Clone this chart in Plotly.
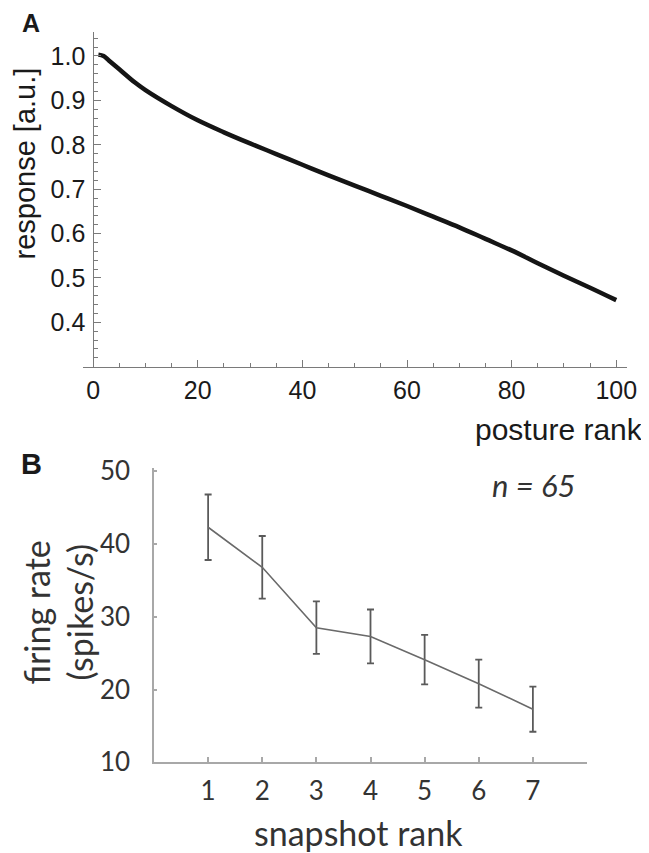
import plotly.graph_objects as go

# Panel A data: response vs posture rank
posture_rank = [1, 2, 3, 5, 8, 10, 15, 20, 25, 30, 35, 40, 45, 50, 55, 60,
                65, 70, 75, 80, 85, 90, 95, 100]
response = [1.003, 1.0, 0.99, 0.97, 0.94, 0.923, 0.887, 0.855, 0.828, 0.803,
            0.779, 0.755, 0.731, 0.708, 0.685, 0.662, 0.638, 0.614, 0.588,
            0.562, 0.533, 0.505, 0.478, 0.45]
a_xticks = [0, 20, 40, 60, 80, 100]
a_yticks = [0.4, 0.5, 0.6, 0.7, 0.8, 0.9, 1.0]

# Panel B data: firing rate vs snapshot rank
snapshot_rank = [1, 2, 3, 4, 5, 6, 7]
firing_rate = [42.3, 36.8, 28.5, 27.3, 24.1, 20.8, 17.3]
firing_err = [4.5, 4.3, 3.6, 3.7, 3.4, 3.3, 3.1]
b_xticks = [1, 2, 3, 4, 5, 6, 7, 8]
b_xticklabels = ["1", "2", "3", "4", "5", "6", "7", ""]
b_yticks = [10, 20, 30, 40, 50]

W, H = 649, 853
OFF = 8  # page body margin
def px(x): return (x - OFF) / W
def py(y): return 1 - (y - OFF) / H

fig = go.Figure()
fig.add_trace(go.Scatter(x=posture_rank, y=response, mode="lines",
                         line=dict(color="#151515", width=4.5, shape="spline"),
                         xaxis="x", yaxis="y", showlegend=False, hoverinfo="skip"))
fig.add_trace(go.Scatter(x=snapshot_rank, y=firing_rate, mode="lines",
                         line=dict(color="#6a6a6a", width=1.6),
                         error_y=dict(type="data", array=firing_err, color="#5a5a5a",
                                      thickness=1.8, width=3.5),
                         xaxis="x2", yaxis="y2", showlegend=False, hoverinfo="skip"))

afont = dict(family="Liberation Sans, Arial, sans-serif", size=25, color="#1a1a1a")
bfont = dict(family="Lato, sans-serif", size=26, color="#333333")
acol = "#7a7a7a"
bcol = "#a8a8a8"

fig.update_layout(
    width=W, height=H, margin=dict(l=0, r=0, t=0, b=0, autoexpand=False),
    paper_bgcolor="white", plot_bgcolor="white",
    xaxis=dict(domain=[px(82.7), px(626.7)], range=[-2, 102], anchor="y", automargin=False,
               tickvals=a_xticks, ticks="inside", ticklen=7, tickcolor=acol, tickwidth=1,
               minor=dict(dtick=5, tick0=0, ticks="inside", ticklen=4, tickcolor=acol),
               showline=True, linecolor=acol, linewidth=1, showgrid=False, zeroline=False,
               tickfont=afont, ticklabelstandoff=1),
    yaxis=dict(domain=[py(366.7), py(32)], range=[0.3, 1.054], anchor="free", automargin=False,
               position=px(93.3), tickvals=a_yticks, ticktext=[f"{v:.1f}" for v in a_yticks],
               ticks="inside", ticklen=7, tickcolor=acol, tickwidth=1,
               minor=dict(dtick=0.02, tick0=0.3, ticks="inside", ticklen=4, tickcolor=acol),
               showline=True, linecolor=acol, linewidth=1, showgrid=False, zeroline=False,
               tickfont=afont, ticklabelstandoff=3),
    xaxis2=dict(domain=[px(154), px(587)], range=[0, 8], anchor="y2", automargin=False,
                tickvals=b_xticks, ticktext=b_xticklabels, ticks="inside", ticklen=6,
                tickcolor=bcol, tickwidth=1.5, showline=True, linecolor=bcol, linewidth=1.5,
                showgrid=False, zeroline=False, tickfont=bfont, ticklabelstandoff=5),
    yaxis2=dict(domain=[py(762.3), py(468.3)], range=[10, 50.4], anchor="x2", automargin=False,
                tickvals=b_yticks, ticks="inside", ticklen=3, tickcolor=bcol, tickwidth=1.5,
                showline=True, linecolor=bcol, linewidth=1.5, showgrid=False, zeroline=False,
                tickfont=bfont, ticklabelstandoff=17),
)

tfa = dict(family="Liberation Sans, Arial, sans-serif", size=30, color="#1a1a1a")
tfb = dict(family="Lato, sans-serif", size=34, color="#333333")
ann = [
    dict(text="<b>A</b>", x=px(31), y=py(23), font=dict(family="Liberation Sans, Arial", size=25, color="#1a1a1a")),
    dict(text="<b>B</b>", x=px(31), y=py(464), font=dict(family="Liberation Sans, Arial", size=29, color="#1a1a1a")),
    dict(text="response [a.u.]", x=px(25), y=py(163.5), textangle=-90,
         font=dict(family="Liberation Sans, Arial, sans-serif", size=29, color="#1a1a1a")),
    dict(text="posture rank", x=px(645), y=py(430), xanchor="right", font=tfa),
    dict(text="firing rate", x=px(36), y=py(612.5), textangle=-90, font=tfb),
    dict(text="(spikes/s)", x=px(79), y=py(612.5), textangle=-90, font=tfb),
    dict(text="snapshot rank", x=px(358), y=py(832), font=tfb),
    dict(text="<i>n = 65</i>", x=px(533), y=py(485), font=dict(family="Lato, sans-serif", size=31, color="#333333")),
]
for a in ann:
    a.setdefault("xanchor", "center")
    a.update(xref="paper", yref="paper", yanchor="middle", showarrow=False)
fig.update_layout(annotations=ann)

fig.write_html("out.html")
